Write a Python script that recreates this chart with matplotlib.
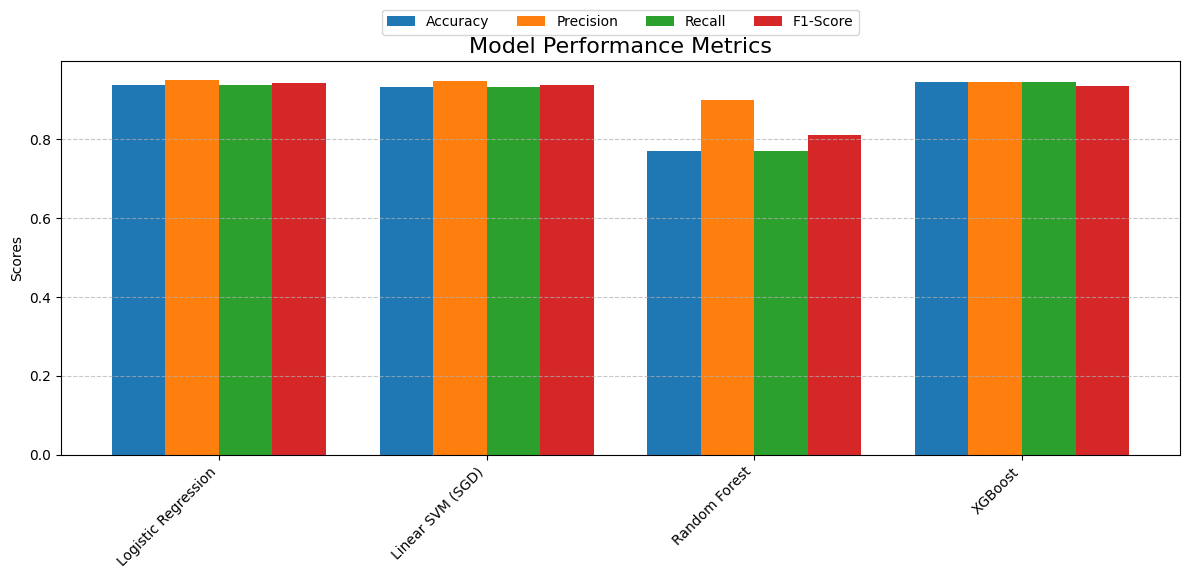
import numpy as np
import matplotlib
matplotlib.use('Agg')
import matplotlib.pyplot as plt

# model scores
models = ['Logistic Regression', 'Linear SVM (SGD)', 'Random Forest', 'XGBoost']
metrics = ['Accuracy', 'Precision', 'Recall', 'F1-Score']
accuracy = [0.938, 0.933, 0.770, 0.945]
precision = [0.950, 0.948, 0.900, 0.945]
recall = [0.938, 0.933, 0.770, 0.945]
f1_score = [0.943, 0.938, 0.811, 0.935]

scores = [accuracy, precision, recall, f1_score]
colors = ['#1f77b4', '#ff7f0e', '#2ca02c', '#d62728']

fig, ax = plt.subplots(figsize=(11.89, 5.79), dpi=100)
x = np.arange(len(models))
width = 0.2

for i, (name, vals) in enumerate(zip(metrics, scores)):
    ax.bar(x + (i - 1.5) * width, vals, width, label=name, color=colors[i])

ax.set_ylabel('Scores')
ax.set_title('Model Performance Metrics', fontsize=16)
ax.set_xticks(x)
ax.set_xticklabels(models, rotation=45, ha='right')
ax.grid(axis='y', linestyle='--', alpha=0.7)
ax.legend(loc='upper center', bbox_to_anchor=(0.5, 1.148), ncol=4)

plt.subplots_adjust(left=0.0513, right=0.9924, top=0.8946, bottom=0.2142)
plt.savefig('out.png')
